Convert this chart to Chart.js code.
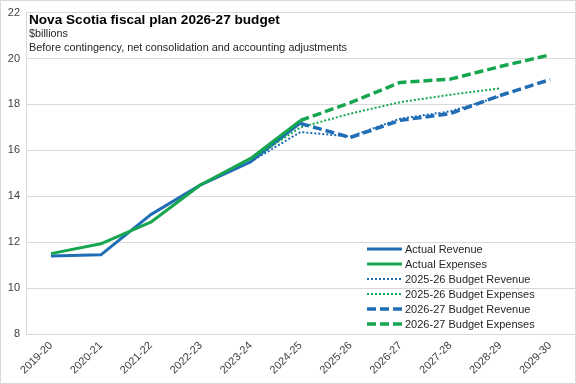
<!DOCTYPE html>
<html>
<head>
<meta charset="utf-8">
<script src="https://cdn.jsdelivr.net/npm/chart.js@4.4.1/dist/chart.umd.min.js"></script>
<style>
html,body{margin:0;padding:0;background:#fff;}
#wrap{width:576px;height:384px;position:relative;}
</style>
</head>
<body>
<div id="wrap"><canvas id="c" width="576" height="384"></canvas></div>
<script>
const categories = ["2019-20","2020-21","2021-22","2022-23","2023-24","2024-25","2025-26","2026-27","2027-28","2028-29","2029-30"];
const actualRevenue     = [11.40, 11.45, 13.20, 14.50, 15.50, 17.20, null, null, null, null, null];
const actualExpenses    = [11.50, 11.93, 12.87, 14.50, 15.65, 17.30, null, null, null, null, null];
const budget2526Revenue = [null, null, null, null, 15.50, 16.80, 16.60, 17.38, 17.70, 18.35, null];
const budget2526Expenses= [null, null, null, null, 15.60, 17.00, 17.60, 18.10, 18.42, 18.70, null];
const budget2627Revenue = [null, null, null, null, null, 17.17, 16.56, 17.31, 17.60, 18.39, 19.08];
const budget2627Expenses= [null, null, null, null, null, 17.30, 18.08, 18.96, 19.10, 19.65, 20.16];
const yTicks = [8, 10, 12, 14, 16, 18, 20, 22];

const titleText = "Nova Scotia fiscal plan 2026-27 budget";
const unitText = "$billions";
const noteText = "Before contingency, net consolidation and accounting adjustments";

const BLUE = "#1F6DB5";
const GREEN = "#17A650";
const FONT = "'Liberation Sans', Arial, sans-serif";

function ds(label, data, color, width, dash, order) {
  return { label, data, borderColor: color, backgroundColor: color, borderWidth: width,
    borderDash: dash, pointRadius: 0, pointHoverRadius: 0, fill: false, tension: 0,
    spanGaps: false, order, borderCapStyle: 'butt', borderJoinStyle: 'round' };
}

const datasets = [
  ds("Actual Revenue", actualRevenue, BLUE, 3, [], 6),
  ds("Actual Expenses", actualExpenses, GREEN, 3, [], 5),
  ds("2025-26 Budget Revenue", budget2526Revenue, BLUE, 2, [2,2], 4),
  ds("2025-26 Budget Expenses", budget2526Expenses, GREEN, 2, [2,2], 3),
  ds("2026-27 Budget Revenue", budget2627Revenue, BLUE, 3.5, [9,4], 2),
  ds("2026-27 Budget Expenses", budget2627Expenses, GREEN, 3.5, [9,4], 1)
];

function fitFont(ctx, text, target, weight, maxSize) {
  ctx.font = weight + " 100px " + FONT;
  const w = ctx.measureText(text).width;
  return Math.min(maxSize, 100 * target / w);
}

const overlay = {
  id: 'overlay',
  afterDraw(chart) {
    const ctx = chart.ctx;
    ctx.save();
    ctx.strokeStyle = '#d9d9d9';
    ctx.lineWidth = 1;
    ctx.strokeRect(0.5, 0.5, chart.width - 1, chart.height - 1);
    ctx.fillStyle = '#000';
    ctx.textBaseline = 'alphabetic';
    ctx.textAlign = 'left';
    let s = fitFont(ctx, titleText, 251, 'bold', 16);
    ctx.font = 'bold ' + s + 'px ' + FONT;
    ctx.fillText(titleText, 29, 24);
    ctx.fillStyle = '#262626';
    s = fitFont(ctx, unitText, 39, 'normal', 12);
    ctx.font = s + 'px ' + FONT;
    ctx.fillText(unitText, 29, 37);
    s = fitFont(ctx, noteText, 318, 'normal', 12);
    ctx.font = s + 'px ' + FONT;
    ctx.fillText(noteText, 29, 50.5);
    const x0 = 367, x1 = 402, tx = 405;
    const rows = [249, 264, 279, 294, 309, 324];
    ctx.font = '11px ' + FONT;
    ctx.textBaseline = 'middle';
    chart.data.datasets.forEach((d, i) => {
      const y = rows[i];
      ctx.beginPath();
      ctx.strokeStyle = d.borderColor;
      ctx.lineWidth = d.borderWidth;
      ctx.setLineDash(d.borderDash || []);
      ctx.moveTo(x0, y);
      ctx.lineTo(x1, y);
      ctx.stroke();
      ctx.setLineDash([]);
      ctx.fillStyle = '#262626';
      ctx.fillText(d.label, tx, y + 0.5);
    });
    ctx.restore();
  }
};

new Chart(document.getElementById('c'), {
  type: 'line',
  data: { labels: categories, datasets },
  options: {
    responsive: false,
    animation: false,
    layout: { padding: { top: 10, right: 1, left: 0, bottom: 0 } },
    plugins: { legend: { display: false }, title: { display: false }, tooltip: { enabled: false } },
    scales: {
      x: {
        offset: true,
        grid: { display: false, drawTicks: false },
        border: { display: false },
        ticks: { color: '#404040', font: { family: FONT, size: 11 }, maxRotation: 45, minRotation: 45, padding: 5, autoSkip: false },
        afterFit(scale) { scale.height = 50; }
      },
      y: {
        min: yTicks[0], max: yTicks[yTicks.length - 1],
        afterBuildTicks(scale) { scale.ticks = yTicks.map(v => ({ value: v })); },
        grid: { color: '#d9d9d9', drawTicks: false, lineWidth: 1 },
        border: { display: true, color: '#d9d9d9' },
        ticks: { color: '#404040', font: { family: FONT, size: 11 }, padding: 6 },
        afterFit(scale) { scale.width = 26; }
      }
    }
  },
  plugins: [overlay]
});
</script>
</body>
</html>
